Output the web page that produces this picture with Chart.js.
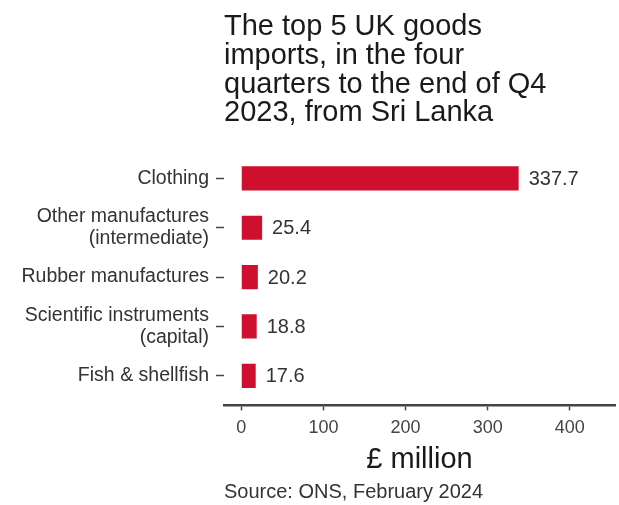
<!DOCTYPE html>
<html>
<head>
<meta charset="utf-8">
<script src="https://cdn.jsdelivr.net/npm/chart.js@4.4.1/dist/chart.umd.min.js"></script>
<style>
  html, body { margin: 0; padding: 0; background: #fff; }
  #wrap { width: 619px; height: 505px; }
</style>
</head>
<body>
<div id="wrap"><canvas id="myChart" width="619" height="505"></canvas></div>
<script>
// data
var categories = [
    'Clothing',
    ['Other manufactures', '(intermediate)'],
    'Rubber manufactures',
    ['Scientific instruments', '(capital)'],
    'Fish & shellfish'
];
var imports = [337.7, 25.4, 20.2, 18.8, 17.6];
var xTicks = [0, 100, 200, 300, 400];
var titleLines = ['The top 5 UK goods', 'imports, in the four', 'quarters to the end of Q4', '2023, from Sri Lanka'];
var sourceText = 'Source: ONS, February 2024';

var FONT = "'Liberation Sans', Arial, sans-serif";

// category positions 1..n on a linear axis, so the padding can be 0.6 like ggplot
var points = imports.map(function(v, i) { return { x: v, y: i + 1 }; });

// value labels at the end of each bar
var barLabels = {
    id: 'barLabels',
    afterDatasetsDraw: function(chart) {
        var ctx = chart.ctx;
        var meta = chart.getDatasetMeta(0);
        ctx.save();
        ctx.font = '20px ' + FONT;
        ctx.fillStyle = '#333';
        ctx.textAlign = 'left';
        ctx.textBaseline = 'middle';
        meta.data.forEach(function(bar, i) {
            ctx.fillText(imports[i].toFixed(1), bar.x + 10, bar.y + 1);
        });
        ctx.restore();
    }
};

var ctx = document.getElementById('myChart').getContext('2d');
var chart = new Chart(ctx, {
    type: 'bar',
    data: {
        datasets: [{
            data: points,
            backgroundColor: '#CE0F2D',
            borderWidth: 0,
            categoryPercentage: 1,
            barPercentage: 0.49
        }]
    },
    options: {
        indexAxis: 'y',
        responsive: false,
        animation: false,
        layout: { padding: { top: 0, right: 4, bottom: 0, left: 0 } },
        plugins: {
            legend: { display: false },
            tooltip: { enabled: false },
            title: {
                display: true,
                text: titleLines,
                align: 'start',
                fullSize: false,
                color: '#1a1a1a',
                font: { family: FONT, size: 29, weight: 'normal', lineHeight: 0.99 },
                padding: { top: 13, bottom: 21 }
            },
            subtitle: {
                display: true,
                text: sourceText,
                position: 'bottom',
                align: 'start',
                fullSize: false,
                color: '#333',
                font: { family: FONT, size: 20, weight: 'normal' },
                padding: { top: 2, bottom: 1 }
            }
        },
        scales: {
            x: {
                type: 'linear',
                min: -21,
                max: 455,
                afterBuildTicks: function(axis) {
                    axis.ticks = xTicks.map(function(v) { return { value: v }; });
                },
                grid: {
                    drawOnChartArea: false,
                    drawTicks: true,
                    tickLength: 5,
                    tickColor: '#444',
                    tickWidth: 1.5
                },
                border: { display: true, color: '#444', width: 2.5 },
                ticks: {
                    color: '#444',
                    font: { family: FONT, size: 18 },
                    padding: 6.5,
                    maxRotation: 0
                },
                title: {
                    display: true,
                    text: '£ million',
                    color: '#1a1a1a',
                    font: { family: FONT, size: 29, lineHeight: 1 },
                    padding: { top: 0, bottom: 4 }
                }
            },
            y: {
                type: 'linear',
                reverse: true,
                offset: false,
                min: 0.4,
                max: 5.6,
                afterBuildTicks: function(axis) {
                    axis.ticks = categories.map(function(c, i) { return { value: i + 1 }; });
                },
                afterFit: function(scale) { scale.width = 224; },
                grid: {
                    offset: false,
                    drawOnChartArea: false,
                    drawTicks: true,
                    tickLength: 8,
                    tickColor: '#444',
                    tickWidth: 1.5
                },
                border: { display: false },
                ticks: {
                    color: '#333',
                    font: { family: FONT, size: 19.5, lineHeight: 1.13 },
                    padding: 7,
                    callback: function(value) { return categories[value - 1]; }
                }
            }
        }
    },
    plugins: [barLabels]
});
</script>
</body>
</html>
